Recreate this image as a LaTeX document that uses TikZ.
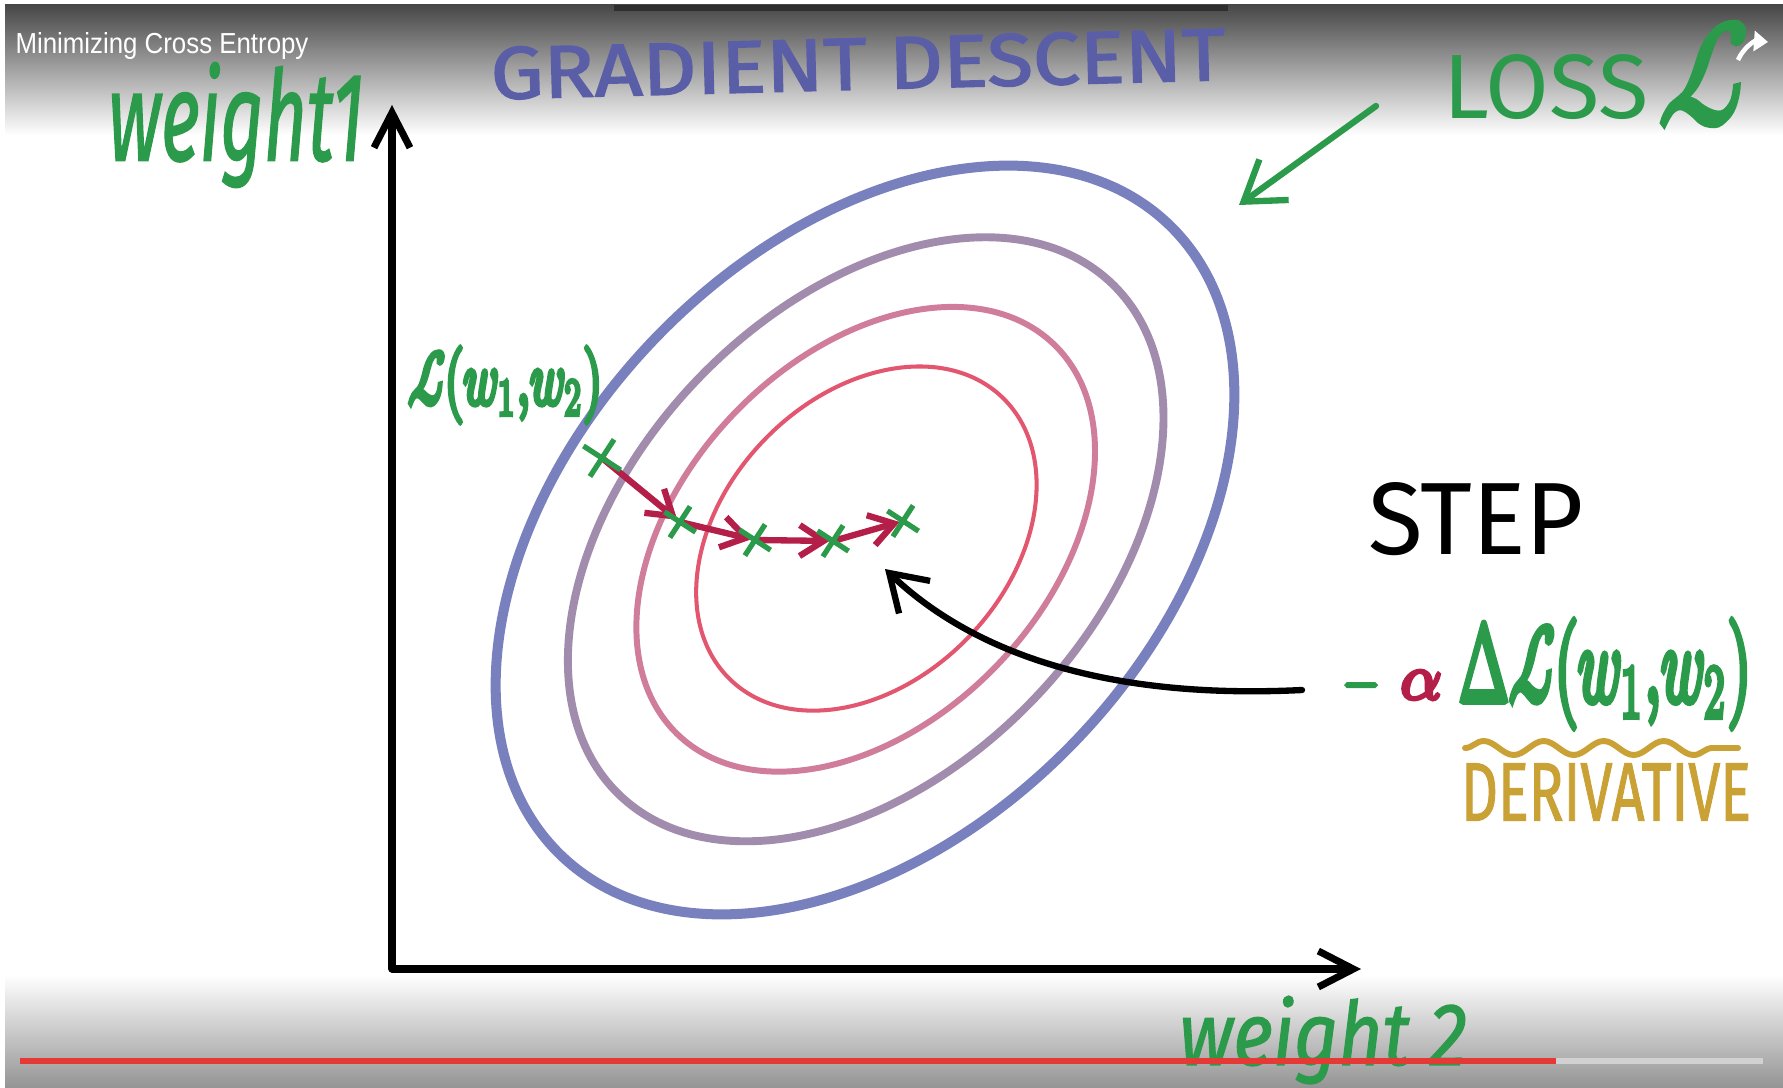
\documentclass[tikz,border=0pt]{standalone}
\usepackage{fontspec}
\setmainfont{Fira Sans}
\newfontfamily\uifont{Liberation Sans}
\newfontfamily\mfont{latinmodern-math.otf}
\usetikzlibrary{arrows.meta,decorations.pathmorphing,shapes.misc}
\definecolor{hgreen}{HTML}{2B9A4B}
\definecolor{hblue}{HTML}{5A5EA6}
\definecolor{ringA}{HTML}{7880BE}
\definecolor{ringB}{HTML}{A28CAE}
\definecolor{ringC}{HTML}{D07D9B}
\definecolor{ringD}{HTML}{E2566F}
\definecolor{crimson}{HTML}{B41F49}
\definecolor{gold}{HTML}{C9A134}
\definecolor{ytred}{HTML}{E53935}
\newcommand{\mk}[1]{\mfont\addfontfeature{FakeBold=#1}}
\tikzset{
  axisline/.style={line width=4pt, line cap=round, line join=round, -{Straight Barb[length=0.7cm,width=0.72cm]}},
  steparrow/.style={crimson, line width=3.6pt, line cap=round, shorten >=2pt, -{Straight Barb[length=0.48cm,width=0.62cm]}},
  greenarrow/.style={hgreen, line width=3.6pt, line cap=round, -{Straight Barb[length=0.75cm,width=1.0cm]}},
  blackarrow/.style={black, line width=3.6pt, line cap=round, -{Straight Barb[length=0.7cm,width=0.9cm]}},
  xmark/.style={cross out, draw=hgreen, line width=3pt, minimum size=0.42cm, inner sep=0pt, rotate=12},
  ring/.style={rotate around={46:(865,540)}},
}
\begin{document}
\begin{tikzpicture}[x=0.02cm,y=-0.02cm]
\useasboundingbox (0,0) rectangle (1783,1088);
\fill[white] (0,0) rectangle (1783,1088);
% video overlay gradients
\shade[top color=black!72, bottom color=white] (5,5) rectangle (1783,135);
\fill[black!82] (614,5) rectangle (1228,11);
\shade[top color=white, bottom color=black!42] (5,975) rectangle (1783,1088);

% contour ellipses
\draw[ring, ringA, line width=5.7pt] (865,540) ellipse [x radius=438, y radius=291];
\draw[ring, ringB, line width=4.5pt] (866,540) ellipse [x radius=355, y radius=232];
\draw[ring, ringC, line width=3.4pt] (866,540) ellipse [x radius=271, y radius=182];
\draw[ring, ringD, line width=2.3pt] (867,540) ellipse [x radius=196, y radius=142];

% axes
\coordinate (origin) at (392,969);
\coordinate (ytip) at (392,105);
\coordinate (xtip) at (1361,969);
\draw[axisline] (origin) -- (ytip);
\draw[axisline] (origin) -- (xtip);

% gradient steps
\coordinate (s1) at (602,458);
\coordinate (s2) at (680,522);
\coordinate (s3) at (755,540);
\coordinate (s4) at (833,541);
\coordinate (s5) at (903,521);
\draw[steparrow] (s1) -- (s2);
\draw[steparrow] (s2) -- (s3);
\draw[steparrow] (s3) -- (s4);
\draw[steparrow] (s4) -- (s5);
\node[xmark, minimum size=0.52cm] (x1) at (s1) {};
\node[xmark] (x2) at (s2) {};
\node[xmark] (x3) at (s3) {};
\node[xmark] (x4) at (s4) {};
\node[xmark] (x5) at (s5) {};

% labels
\node[text=white, inner sep=0pt] (vtitle) at (162,46) {\resizebox*{5.86cm}{0.54cm}{\uifont Minimizing Cross Entropy}};
\node[text=hblue, inner sep=0pt, rotate=1.5] (gdtitle) at (858,64) {\resizebox{14.7cm}{1.04cm}{\addfontfeature{FakeBold=2}GRADIENT DESCENT}};
\node[text=hgreen, inner sep=0pt] (wone) at (236,125) {\resizebox*{5.12cm}{2.5cm}{\itshape\addfontfeature{FakeBold=1.5}weight1}};
\node[text=hgreen, inner sep=0pt] (wtwo) at (1323,1040) {\resizebox*{5.76cm}{1.76cm}{\itshape\addfontfeature{FakeBold=1.5}weight 2}};
\node[text=hgreen, inner sep=0pt] (loss) at (1546,87) {\resizebox{4.1cm}{1.28cm}{LOSS}};
\node[text=hgreen, inner sep=0pt] (lossL) at (1703,74) {\resizebox*{1.82cm}{2.05cm}{\mk{4}ℒ}};
\node[text=hgreen, inner sep=0pt] (lw) at (505,385) {\resizebox*{3.88cm}{1.5cm}{\mk{8}ℒ(𝑤\textsubscript{1},𝑤\textsubscript{2})}};
\node[text=black, inner sep=0pt] (steplbl) at (1476,519) {\resizebox{4.32cm}{1.44cm}{STEP}};
\node[text=hgreen, inner sep=0pt] (minus) at (1361,690) {\resizebox{0.66cm}{!}{\mk{10}−}};
\node[text=crimson, inner sep=0pt] (alpha) at (1421,685) {\resizebox{0.82cm}{!}{\mk{6}𝛼}};
\node[text=hgreen, inner sep=0pt] (grad) at (1605,674) {\resizebox*{5.84cm}{2.16cm}{\mk{7}Δℒ(𝑤\textsubscript{1},𝑤\textsubscript{2})}};
\node[text=gold, inner sep=0pt] (deriv) at (1606,792) {\resizebox{5.8cm}{1.14cm}{\addfontfeature{FakeBold=1.5}DERIVATIVE}};

% wavy underline
\coordinate (wavL) at (1465,748);
\coordinate (wavR) at (1738,748);
\draw[gold, line width=3.4pt, line cap=round, decorate, decoration={snake, segment length=1.2cm, amplitude=0.14cm}] (wavL) -- (wavR);

% connectors
\coordinate (gstart) at (1376,106);
\coordinate (gend) at (1239,205);
\draw[greenarrow] (gstart) -- (gend);
\coordinate (bstart) at (1302,690);
\coordinate (bend) at (885,569);
\draw[blackarrow] (bstart) .. controls (1100,700) and (970,650) .. (bend);

% player bar
\coordinate (barL) at (20,1061);
\coordinate (barM) at (1556,1061);
\coordinate (barR) at (1763,1061);
\draw[black!18, line width=3pt] (barM) -- (barR);
\draw[ytred, line width=3pt] (barL) -- (barM);
% share icon
\coordinate (shA) at (1738,60);
\coordinate (shB) at (1768,42);
\draw[white, line width=2.6pt, -{Triangle[length=0.28cm,width=0.4cm]}] (shA) to[bend left=35] (shB);
\end{tikzpicture}
\end{document}
